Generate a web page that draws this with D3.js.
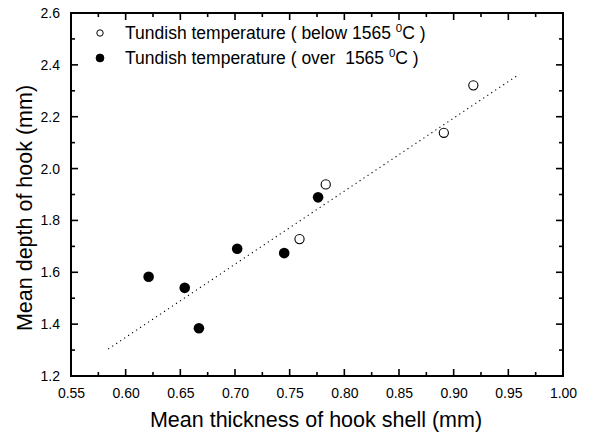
<!DOCTYPE html>
<html><head><meta charset="utf-8">
<script src="https://cdn.jsdelivr.net/npm/d3@7"></script>
<style>body{margin:0;background:#fff}svg{display:block;font-family:"Liberation Sans",Arial,sans-serif}</style>
</head><body>
<script>
const belowX = [0.759, 0.783, 0.891, 0.918];
const belowY = [1.728, 1.939, 2.138, 2.321];
const overX = [0.621, 0.654, 0.667, 0.702, 0.745, 0.776];
const overY = [1.583, 1.540, 1.384, 1.691, 1.674, 1.889];
const fitX = [0.584, 0.960];
const fitY = [1.304, 2.364];
const xTicks = [0.55,0.60,0.65,0.70,0.75,0.80,0.85,0.90,0.95,1.00];
const yTicks = [1.2,1.4,1.6,1.8,2.0,2.2,2.4,2.6];
const legendLabels = ["Tundish temperature ( below 1565 ", "Tundish temperature ( over  1565 "];

const W=590,H=439;
const L=71,R=563,T=13,B=376;
const svg=d3.select("body").append("svg").attr("width",W).attr("height",H);
const x=d3.scaleLinear().domain([0.55,1.0]).range([L,R]);
const y=d3.scaleLinear().domain([1.2,2.6]).range([B,T]);

const minorX=d3.range(0,19).map(i=>0.55+i*0.025);
const minorY=d3.range(0,15).map(i=>1.2+i*0.1);

// axes with labels (ticks drawn separately)
svg.append("g").attr("transform",`translate(0,${B})`)
  .call(d3.axisBottom(x).tickValues(xTicks).tickFormat(d3.format(".2f")).tickSize(0).tickPadding(12));
svg.append("g").attr("transform",`translate(${L},0)`)
  .call(d3.axisLeft(y).tickValues(yTicks).tickFormat(d3.format(".1f")).tickSize(0).tickPadding(11));
svg.selectAll(".domain").remove();
svg.selectAll(".tick text").attr("font-size",14).attr("font-family","Liberation Sans, Arial, sans-serif").attr("fill","#000");

const tk=svg.append("g").attr("stroke","#000").attr("stroke-width",1.6);
function isMajorX(v){return xTicks.some(t=>Math.abs(t-v)<1e-6);}
function isMajorY(v){return yTicks.some(t=>Math.abs(t-v)<1e-6);}
minorX.forEach(v=>{
  const len=isMajorX(v)?7:4;
  tk.append("line").attr("x1",x(v)).attr("x2",x(v)).attr("y1",B).attr("y2",B-len);
  tk.append("line").attr("x1",x(v)).attr("x2",x(v)).attr("y1",T).attr("y2",T+len);
});
minorY.forEach(v=>{
  const len=isMajorY(v)?7:4;
  tk.append("line").attr("y1",y(v)).attr("y2",y(v)).attr("x1",L).attr("x2",L+len);
  tk.append("line").attr("y1",y(v)).attr("y2",y(v)).attr("x1",R).attr("x2",R-len);
});
svg.append("rect").attr("x",L).attr("y",T).attr("width",R-L).attr("height",B-T)
  .attr("fill","none").attr("stroke","#000").attr("stroke-width",2);

// fit line
svg.append("path").datum(fitX.map((v,i)=>[v,fitY[i]]))
 .attr("d",d3.line().x(d=>x(d[0])).y(d=>y(d[1])))
 .attr("stroke","#000").attr("stroke-width",1.1).attr("stroke-dasharray","1.2,3.6").attr("fill","none");

// points
svg.append("g").selectAll("circle").data(overX.map((v,i)=>[v,overY[i]])).join("circle")
 .attr("cx",d=>x(d[0])).attr("cy",d=>y(d[1])).attr("r",5.3).attr("fill","#000");
svg.append("g").selectAll("circle").data(belowX.map((v,i)=>[v,belowY[i]])).join("circle")
 .attr("cx",d=>x(d[0])).attr("cy",d=>y(d[1])).attr("r",4.6).attr("fill","#fff").attr("stroke","#000").attr("stroke-width",1.1);

// legend
const leg=svg.append("g");
legendLabels.forEach((lab,i)=>{
  const yy=33+i*25;
  leg.append("circle").attr("cx",100).attr("cy",yy).attr("r",i===0?3.2:3.9)
    .attr("fill",i===0?"#fff":"#000").attr("stroke","#000").attr("stroke-width",1);
  const t=leg.append("text").attr("x",125).attr("y",yy+6).attr("font-size",17.5).attr("fill","#000")
    .style("white-space","pre");
  t.append("tspan").text(lab);
  t.append("tspan").attr("dy",-7).attr("font-size",11.5).text("0");
  t.append("tspan").attr("dy",7).text("C )");
});

// axis titles
svg.append("text").attr("x",316).attr("y",427).attr("text-anchor","middle").attr("font-size",21.5).text("Mean thickness of hook shell (mm)");
svg.append("text").attr("transform",`translate(32,208) rotate(-90)`).attr("text-anchor","middle").attr("font-size",21.5).text("Mean depth of hook (mm)");
</script>
</body></html>
